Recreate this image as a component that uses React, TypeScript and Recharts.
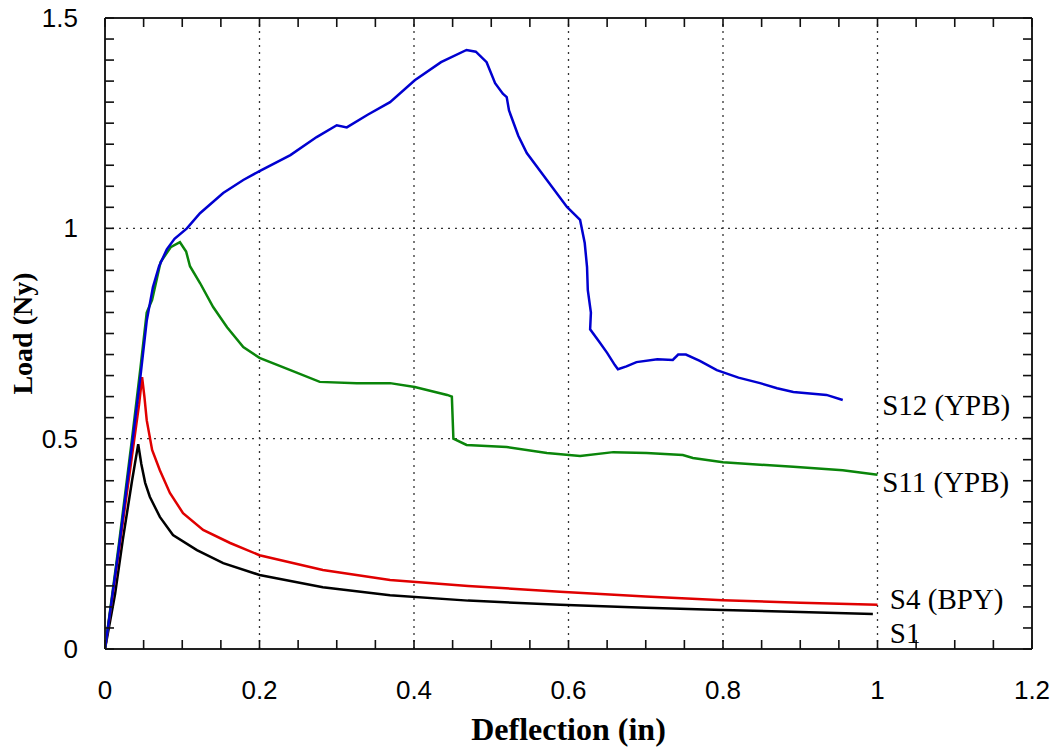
import React from 'react';
import { LineChart, Line, XAxis, YAxis, ReferenceLine, ReferenceDot, Label } from 'recharts';

// tick values
const xMajor = [0, 0.2, 0.4, 0.6, 0.8, 1, 1.2];
const xTicks = [0, 0.05, 0.1, 0.15, 0.2, 0.25, 0.3, 0.35, 0.4, 0.45, 0.5, 0.55, 0.6,
  0.65, 0.7, 0.75, 0.8, 0.85, 0.9, 0.95, 1, 1.05, 1.1, 1.15, 1.2];
const yMajor = [0, 0.5, 1, 1.5];
const yTicks = [0, 0.05, 0.1, 0.15, 0.2, 0.25, 0.3, 0.35, 0.4, 0.45, 0.5, 0.55, 0.6,
  0.65, 0.7, 0.75, 0.8, 0.85, 0.9, 0.95, 1, 1.05, 1.1, 1.15, 1.2, 1.25, 1.3, 1.35,
  1.4, 1.45, 1.5];

// S1
const s1Deflection = [0, 0.013, 0.023, 0.035, 0.043, 0.047, 0.052, 0.058, 0.071, 0.088,
  0.119, 0.153, 0.2, 0.282, 0.369, 0.47, 0.589, 0.7, 0.8, 0.9, 0.994];
const s1Load = [0, 0.13, 0.259, 0.4, 0.487, 0.44, 0.395, 0.362, 0.314, 0.271,
  0.235, 0.204, 0.176, 0.147, 0.128, 0.115, 0.105, 0.098, 0.093, 0.088, 0.083];

// S4 (BPY)
const s4Deflection = [0, 0.02, 0.035, 0.044, 0.048, 0.051, 0.054, 0.061, 0.071, 0.084,
  0.101, 0.127, 0.162, 0.2, 0.282, 0.369, 0.47, 0.589, 0.7, 0.8, 0.9, 1.0];
const s4Load = [0, 0.26, 0.46, 0.58, 0.646, 0.6, 0.544, 0.473, 0.425, 0.371,
  0.323, 0.283, 0.252, 0.223, 0.188, 0.164, 0.15, 0.136, 0.125, 0.116, 0.11, 0.105];

// S11 (YPB)
const s11Deflection = [0, 0.018, 0.035, 0.046, 0.054, 0.061, 0.072, 0.085, 0.097, 0.105,
  0.11, 0.123, 0.14, 0.158, 0.179, 0.2, 0.24, 0.278, 0.326, 0.369, 0.401, 0.443, 0.449,
  0.451, 0.468, 0.52, 0.572, 0.615, 0.658, 0.701, 0.748, 0.761, 0.8, 0.891, 0.955, 1.0];
const s11Load = [0, 0.25, 0.5, 0.67, 0.8, 0.83, 0.92, 0.955, 0.967, 0.945,
  0.91, 0.87, 0.813, 0.765, 0.718, 0.692, 0.663, 0.635, 0.632, 0.632, 0.623, 0.604, 0.6,
  0.5, 0.485, 0.48, 0.466, 0.459, 0.468, 0.466, 0.461, 0.454, 0.444, 0.433, 0.425, 0.414];

// S12 (YPB)
const s12Deflection = [0, 0.018, 0.036, 0.046, 0.054, 0.062, 0.07, 0.08, 0.09, 0.106,
  0.123, 0.153, 0.179, 0.2, 0.24, 0.274, 0.3, 0.313, 0.34, 0.369, 0.401, 0.435, 0.468,
  0.48, 0.494, 0.505, 0.515, 0.52, 0.523, 0.535, 0.546, 0.572, 0.598, 0.615, 0.621,
  0.624, 0.625, 0.629, 0.628, 0.64, 0.65, 0.66, 0.664, 0.675, 0.688, 0.715, 0.735,
  0.742, 0.752, 0.77, 0.792, 0.82, 0.848, 0.87, 0.891, 0.934, 0.955];
const s12Load = [0, 0.24, 0.5, 0.65, 0.78, 0.86, 0.91, 0.95, 0.975, 1.0,
  1.036, 1.084, 1.115, 1.136, 1.174, 1.217, 1.245, 1.24, 1.27, 1.3, 1.352, 1.395, 1.424,
  1.42, 1.395, 1.345, 1.32, 1.312, 1.28, 1.22, 1.179, 1.115, 1.051, 1.02, 0.965,
  0.908, 0.853, 0.8, 0.76, 0.73, 0.704, 0.675, 0.665, 0.672, 0.682, 0.689, 0.687,
  0.7, 0.7, 0.685, 0.663, 0.645, 0.632, 0.62, 0.611, 0.604, 0.592];

const toRows = (xs: number[], ys: number[]) => xs.map((x, i) => ({ deflection: x, load: ys[i] }));

const s1 = toRows(s1Deflection, s1Load);
const s4 = toRows(s4Deflection, s4Load);
const s11 = toRows(s11Deflection, s11Load);
const s12 = toRows(s12Deflection, s12Load);

const isMajor = (v: number, majors: number[]) => majors.some((m) => Math.abs(m - v) < 1e-6);

const tickFamily = "'Liberation Sans', Arial, sans-serif";
const titleFont = "'Liberation Serif', 'DejaVu Serif', serif";
const frame = { stroke: '#222', strokeWidth: 2 };
const TICK = 9;

// labels only; tick marks are drawn as reference dots below
const BottomLabel = (p: any) => {
  const { x, y, payload } = p;
  if (!isMajor(payload.value, xMajor)) return <g />;
  return (
    <text x={x} y={y + 50} textAnchor="middle" fontFamily={tickFamily} fontSize={26} fill="#000">
      {String(payload.value)}
    </text>
  );
};

const LeftLabel = (p: any) => {
  const { x, y, payload } = p;
  if (!isMajor(payload.value, yMajor)) return <g />;
  return (
    <text x={x - 27} y={y + 9} textAnchor="end" fontFamily={tickFamily} fontSize={26} fill="#000">
      {String(payload.value)}
    </text>
  );
};

// short inward tick mark centred on a reference dot
const tickMark = (dx: number, dy: number) => (p: any) => (
  <path d={`M${p.cx},${p.cy}L${p.cx + dx * TICK},${p.cy + dy * TICK}`}
    stroke="#111" strokeWidth={1.6} fill="none" />
);

const YTitle = (props: any) => {
  const vb = props.viewBox;
  const cx = vb.x + vb.width - 83;
  const cy = vb.y + vb.height / 2;
  return (
    <text x={cx} y={cy} transform={`rotate(-90, ${cx}, ${cy})`} textAnchor="middle"
      dominantBaseline="central" fontFamily={titleFont} fontWeight="bold" fontSize={28}>
      Load (Ny)
    </text>
  );
};

const seriesLabel = (value: string) => ({
  value,
  position: 'right' as const,
  offset: 0,
  fontFamily: titleFont,
  fontSize: 29,
  fill: '#000',
});

export default function App() {
  return (
    <div style={{ position: 'absolute', left: 0, top: 0, background: '#fff' }}>
      <LineChart width={1055} height={747} margin={{ top: 17, right: 22, bottom: 38, left: 25 }}>
        <XAxis xAxisId="b" dataKey="deflection" type="number" domain={[0, 1.2]} ticks={xTicks}
          interval={0} height={60} allowDataOverflow axisLine={frame} tickLine={false}
          tickSize={0} tickMargin={0} tick={BottomLabel}>
          <Label value="Deflection (in)" position="bottom" offset={8} fontFamily={titleFont}
            fontWeight="bold" fontSize={32} fill="#000" />
        </XAxis>
        <XAxis xAxisId="t" orientation="top" dataKey="deflection" type="number" domain={[0, 1.2]}
          height={1} axisLine={frame} tickLine={false} tick={false} />
        <YAxis yAxisId="l" type="number" domain={[0, 1.5]} ticks={yTicks} interval={0} width={80}
          allowDataOverflow axisLine={frame} tickLine={false} tickSize={0} tickMargin={0}
          tick={LeftLabel}>
          <Label content={YTitle} />
        </YAxis>
        <YAxis yAxisId="r" orientation="right" type="number" domain={[0, 1.5]}
          width={1} axisLine={frame} tickLine={false} tick={false} />

        {[0.2, 0.4, 0.6, 0.8, 1].map((v) => (
          <ReferenceLine key={'gx' + v} x={v} xAxisId="b" yAxisId="l" stroke="#333"
            strokeWidth={1.3} strokeDasharray="2 5" />
        ))}
        {[0.5, 1].map((v) => (
          <ReferenceLine key={'gy' + v} y={v} xAxisId="b" yAxisId="l" stroke="#333"
            strokeWidth={1.3} strokeDasharray="2 5" />
        ))}

        {xTicks.map((v) => (
          <ReferenceDot key={'tb' + v} x={v} y={0} xAxisId="b" yAxisId="l" r={1}
            ifOverflow="visible" shape={tickMark(0, -1)} />
        ))}
        {xTicks.map((v) => (
          <ReferenceDot key={'tt' + v} x={v} y={1.5} xAxisId="b" yAxisId="l" r={1}
            ifOverflow="visible" shape={tickMark(0, 1)} />
        ))}
        {yTicks.map((v) => (
          <ReferenceDot key={'tl' + v} x={0} y={v} xAxisId="b" yAxisId="l" r={1}
            ifOverflow="visible" shape={tickMark(1, 0)} />
        ))}
        {yTicks.map((v) => (
          <ReferenceDot key={'tr' + v} x={1.2} y={v} xAxisId="b" yAxisId="l" r={1}
            ifOverflow="visible" shape={tickMark(-1, 0)} />
        ))}

        <Line data={s1} dataKey="load" xAxisId="b" yAxisId="l" type="linear" stroke="#000"
          strokeWidth={2.5} dot={false} isAnimationActive={false} />
        <Line data={s4} dataKey="load" xAxisId="b" yAxisId="l" type="linear" stroke="#e00000"
          strokeWidth={2.5} dot={false} isAnimationActive={false} />
        <Line data={s11} dataKey="load" xAxisId="b" yAxisId="l" type="linear" stroke="#0a850a"
          strokeWidth={2.5} dot={false} isAnimationActive={false} />
        <Line data={s12} dataKey="load" xAxisId="b" yAxisId="l" type="linear" stroke="#0000d0"
          strokeWidth={2.5} dot={false} isAnimationActive={false} />

        <ReferenceDot x={1.006} y={0.58} r={0} xAxisId="b" yAxisId="l" label={seriesLabel('S12 (YPB)')} />
        <ReferenceDot x={1.006} y={0.397} r={0} xAxisId="b" yAxisId="l" label={seriesLabel('S11 (YPB)')} />
        <ReferenceDot x={1.016} y={0.119} r={0} xAxisId="b" yAxisId="l" label={seriesLabel('S4 (BPY)')} />
        <ReferenceDot x={1.016} y={0.038} r={0} xAxisId="b" yAxisId="l" label={seriesLabel('S1')} />
      </LineChart>
    </div>
  );
}
